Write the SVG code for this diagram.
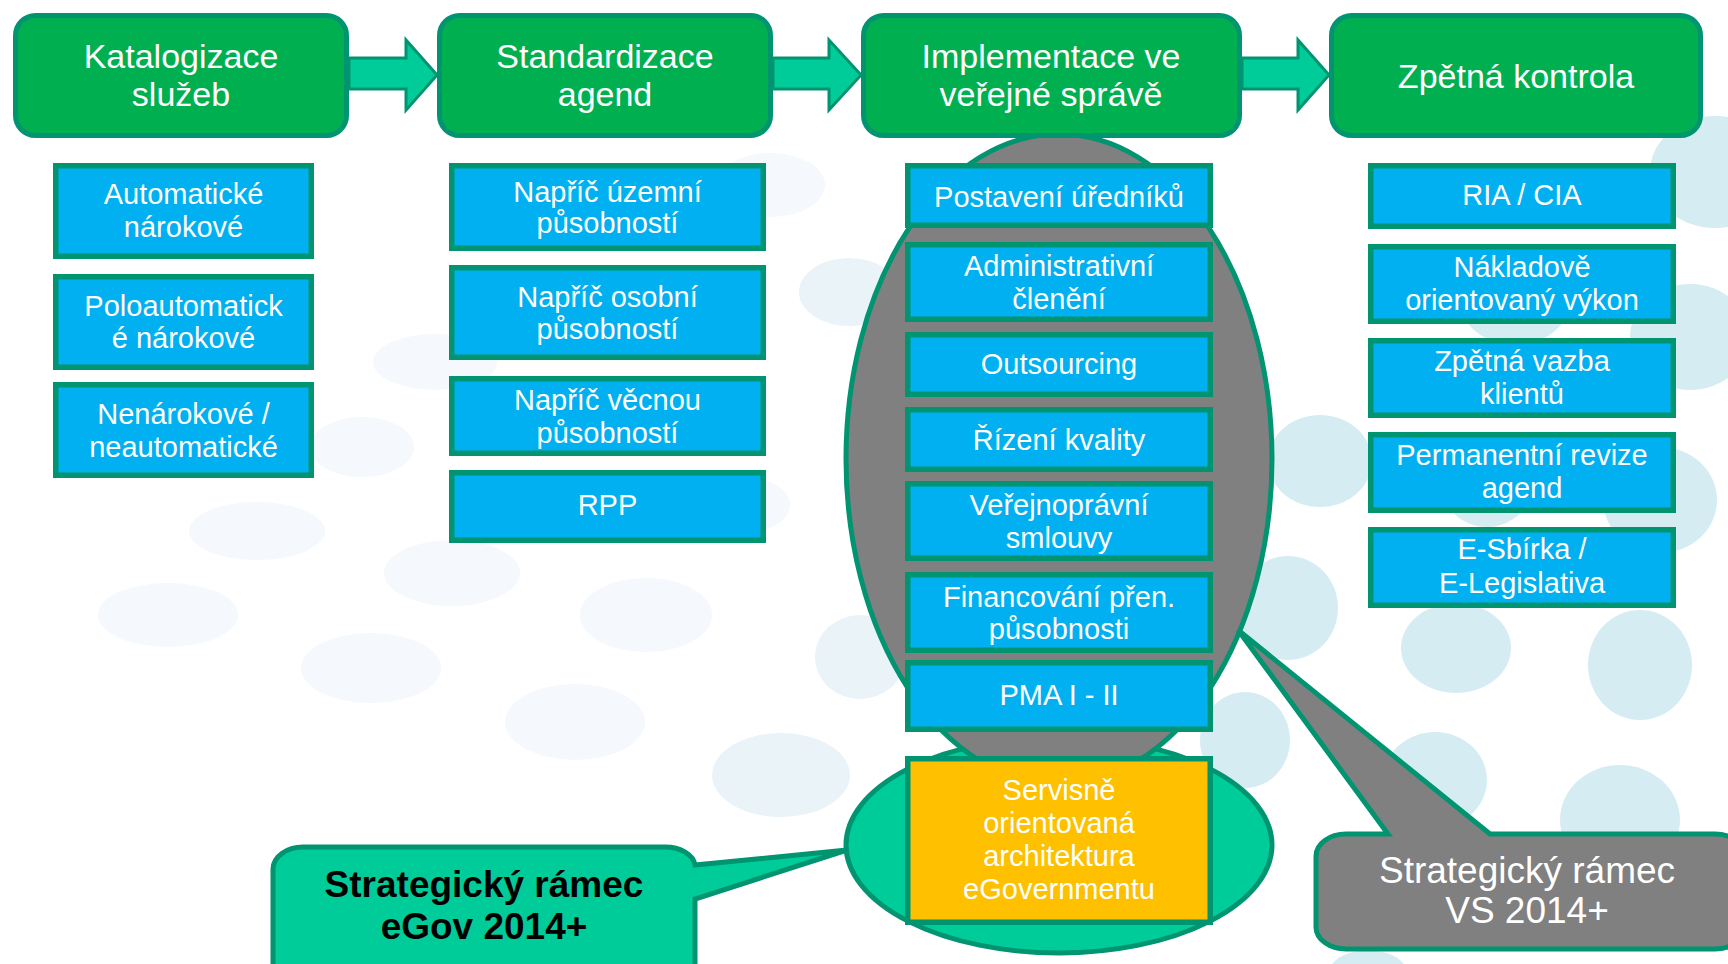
<svg xmlns="http://www.w3.org/2000/svg" width="1728" height="964" viewBox="0 0 1728 964">
<defs>
<style>
.bgp{fill:#F5F8FC}
.bgm{fill:#EAF3F8}
.bgb{fill:#D5ECF3}
.hdr{fill:#00B050;stroke:#009471;stroke-width:5}
.box{fill:#00B0F0;stroke:#009471;stroke-width:5.5}
.ybox{fill:#FFC000;stroke:#009471;stroke-width:5.5}
.arr{fill:#00CC99;stroke:#009471;stroke-width:3;stroke-linejoin:miter}
.t{font-family:"Liberation Sans",Arial,sans-serif;fill:#FFFFFF;text-anchor:middle}
.th{font-size:34px}
.tb{font-size:29px}
.tc{font-size:37px}
</style>
</defs>
<rect x="0" y="0" width="1728" height="964" fill="#FFFFFF"/>
<g id="background">
<ellipse class="bgp" cx="770" cy="185" rx="55" ry="32"/>
<ellipse class="bgm" cx="849" cy="292" rx="50" ry="34"/>
<ellipse class="bgp" cx="435" cy="362" rx="62" ry="28"/>
<ellipse class="bgp" cx="362" cy="447" rx="52" ry="30"/>
<ellipse class="bgp" cx="257" cy="531" rx="68" ry="29"/>
<ellipse class="bgp" cx="168" cy="615" rx="70" ry="32"/>
<ellipse class="bgp" cx="452" cy="573" rx="68" ry="33"/>
<ellipse class="bgp" cx="646" cy="615" rx="66" ry="37"/>
<ellipse class="bgp" cx="371" cy="668" rx="70" ry="35"/>
<ellipse class="bgp" cx="575" cy="722" rx="70" ry="38"/>
<ellipse class="bgm" cx="860" cy="657" rx="45" ry="42"/>
<ellipse class="bgm" cx="781" cy="775" rx="69" ry="42"/>
<ellipse class="bgp" cx="735" cy="505" rx="55" ry="30"/>
<ellipse class="bgb" cx="1715" cy="172" rx="65" ry="56"/>
<ellipse class="bgb" cx="1690" cy="337" rx="60" ry="53"/>
<ellipse class="bgb" cx="1660" cy="500" rx="57" ry="53"/>
<ellipse class="bgb" cx="1320" cy="461" rx="52" ry="46"/>
<ellipse class="bgb" cx="1515" cy="300" rx="55" ry="45"/>
<ellipse class="bgb" cx="1487" cy="480" rx="47" ry="47"/>
<ellipse class="bgb" cx="1288" cy="608" rx="50" ry="52"/>
<ellipse class="bgb" cx="1456" cy="648" rx="55" ry="45"/>
<ellipse class="bgb" cx="1640" cy="665" rx="52" ry="55"/>
<ellipse class="bgb" cx="1435" cy="780" rx="52" ry="48"/>
<ellipse class="bgb" cx="1620" cy="820" rx="60" ry="55"/>
<ellipse class="bgb" cx="1245" cy="740" rx="45" ry="48"/>
<ellipse class="bgb" cx="1368" cy="975" rx="40" ry="25"/>
</g>
<g id="groups">
<ellipse id="ellipse-egov" cx="1059" cy="845" rx="213" ry="108" fill="#00CC99" stroke="#009471" stroke-width="5"/>
<ellipse id="ellipse-vs" cx="1059" cy="459" rx="213" ry="325" fill="#808080" stroke="#009471" stroke-width="5"/>
</g>
<g id="connectors">
<polygon class="arr" points="349,58 406,58 406,40 437,75 406,110 406,89 349,89"/>
<polygon class="arr" points="773,58 829,58 829,40 861,75 829,110 829,89 773,89"/>
<polygon class="arr" points="1242,58 1298,58 1298,40 1329,75 1298,110 1298,89 1242,89"/>
</g>
<g id="h1"><rect class="hdr" x="15.5" y="15.5" width="331" height="120" rx="20"/><text class="t th" x="181" y="68">Katalogizace</text><text class="t th" x="181" y="106">služeb</text></g>
<g id="h2"><rect class="hdr" x="439.5" y="15.5" width="331" height="120" rx="20"/><text class="t th" x="605" y="68">Standardizace</text><text class="t th" x="605" y="106">agend</text></g>
<g id="h3"><rect class="hdr" x="863.5" y="15.5" width="376" height="120" rx="20"/><text class="t th" x="1051" y="68">Implementace ve</text><text class="t th" x="1051" y="106">veřejné správě</text></g>
<g id="h4"><rect class="hdr" x="1331.5" y="15.5" width="369" height="120" rx="20"/><text class="t th" x="1516" y="88">Zpětná kontrola</text></g>

<g id="c1a"><rect class="box" x="55.75" y="165.75" width="255.5" height="90.5"/><text class="t tb" x="183.5" y="204">Automatické</text><text class="t tb" x="183.5" y="237">nárokové</text></g>
<g id="c1b"><rect class="box" x="55.75" y="276.75" width="255.5" height="90.5"/><text class="t tb" x="183.5" y="316">Poloautomatick</text><text class="t tb" x="183.5" y="348">é nárokové</text></g>
<g id="c1c"><rect class="box" x="55.75" y="384.75" width="255.5" height="90.5"/><text class="t tb" x="183.5" y="424">Nenárokové /</text><text class="t tb" x="183.5" y="457">neautomatické</text></g>

<g id="c2a"><rect class="box" x="451.75" y="165.75" width="311.5" height="82.5"/><text class="t tb" x="607.5" y="202">Napříč územní</text><text class="t tb" x="607.5" y="233">působností</text></g>
<g id="c2b"><rect class="box" x="451.75" y="267.75" width="311.5" height="89.5"/><text class="t tb" x="607.5" y="307">Napříč osobní</text><text class="t tb" x="607.5" y="339">působností</text></g>
<g id="c2c"><rect class="box" x="451.75" y="378.75" width="311.5" height="74.5"/><text class="t tb" x="607.5" y="410">Napříč věcnou</text><text class="t tb" x="607.5" y="443">působností</text></g>
<g id="c2d"><rect class="box" x="451.75" y="472.75" width="311.5" height="67.5"/><text class="t tb" x="607.5" y="515">RPP</text></g>

<g id="c3a"><rect class="box" x="907.75" y="165.75" width="302.5" height="59.5"/><text class="t tb" x="1059" y="207">Postavení úředníků</text></g>
<g id="c3b"><rect class="box" x="907.75" y="244.75" width="302.5" height="74.5"/><text class="t tb" x="1059" y="276">Administrativní</text><text class="t tb" x="1059" y="309">členění</text></g>
<g id="c3c"><rect class="box" x="907.75" y="334.75" width="302.5" height="59.5"/><text class="t tb" x="1059" y="374">Outsourcing</text></g>
<g id="c3d"><rect class="box" x="907.75" y="409.75" width="302.5" height="59.5"/><text class="t tb" x="1059" y="450">Řízení kvality</text></g>
<g id="c3e"><rect class="box" x="907.75" y="483.75" width="302.5" height="74.5"/><text class="t tb" x="1059" y="515">Veřejnoprávní</text><text class="t tb" x="1059" y="548">smlouvy</text></g>
<g id="c3f"><rect class="box" x="907.75" y="574.75" width="302.5" height="75.5"/><text class="t tb" x="1059" y="607">Financování přen.</text><text class="t tb" x="1059" y="639">působnosti</text></g>
<g id="c3g"><rect class="box" x="907.75" y="662.75" width="302.5" height="66.5"/><text class="t tb" x="1059" y="705">PMA I - II</text></g>
<g id="c3h"><rect class="ybox" x="907.75" y="758.75" width="302.5" height="163.5"/><text class="t tb" x="1059" y="800">Servisně</text><text class="t tb" x="1059" y="833">orientovaná</text><text class="t tb" x="1059" y="866">architektura</text><text class="t tb" x="1059" y="899">eGovernmentu</text></g>

<g id="c4a"><rect class="box" x="1370.75" y="165.75" width="302.5" height="60.5"/><text class="t tb" x="1522" y="205">RIA / CIA</text></g>
<g id="c4b"><rect class="box" x="1370.75" y="246.75" width="302.5" height="74.5"/><text class="t tb" x="1522" y="277">Nákladově</text><text class="t tb" x="1522" y="310">orientovaný výkon</text></g>
<g id="c4c"><rect class="box" x="1370.75" y="340.75" width="302.5" height="74.5"/><text class="t tb" x="1522" y="371">Zpětná vazba</text><text class="t tb" x="1522" y="404">klientů</text></g>
<g id="c4d"><rect class="box" x="1370.75" y="434.75" width="302.5" height="75.5"/><text class="t tb" x="1522" y="465">Permanentní revize</text><text class="t tb" x="1522" y="498">agend</text></g>
<g id="c4e"><rect class="box" x="1370.75" y="529.75" width="302.5" height="75.5"/><text class="t tb" x="1522" y="559">E-Sbírka /</text><text class="t tb" x="1522" y="593">E-Legislativa</text></g>

<g id="callout-egov">
<path d="M 273 869 A 30 22 0 0 1 303 847 H 665 A 30 20 0 0 1 695 865 L 847 850 L 695 899 V 1000 H 273 Z" fill="#00CC99" stroke="#009471" stroke-width="5" stroke-linejoin="miter"/>
<text class="tc" x="484" y="897" font-family="'Liberation Sans',Arial,sans-serif" font-weight="bold" fill="#000000" text-anchor="middle">Strategický rámec</text>
<text class="tc" x="484" y="939" font-family="'Liberation Sans',Arial,sans-serif" font-weight="bold" fill="#000000" text-anchor="middle">eGov 2014+</text>
</g>
<g id="callout-vs">
<path d="M 1316 856 A 30 22 0 0 1 1346 834 H 1388 L 1238 630 L 1490 834 H 1715 A 30 22 0 0 1 1745 856 V 927 A 30 22 0 0 1 1715 949 H 1346 A 30 22 0 0 1 1316 927 Z" fill="#808080" stroke="#009471" stroke-width="5" stroke-linejoin="miter"/>
<text class="t tc" x="1527" y="883">Strategický rámec</text>
<text class="t tc" x="1527" y="923">VS 2014+</text>
</g>
</svg>
